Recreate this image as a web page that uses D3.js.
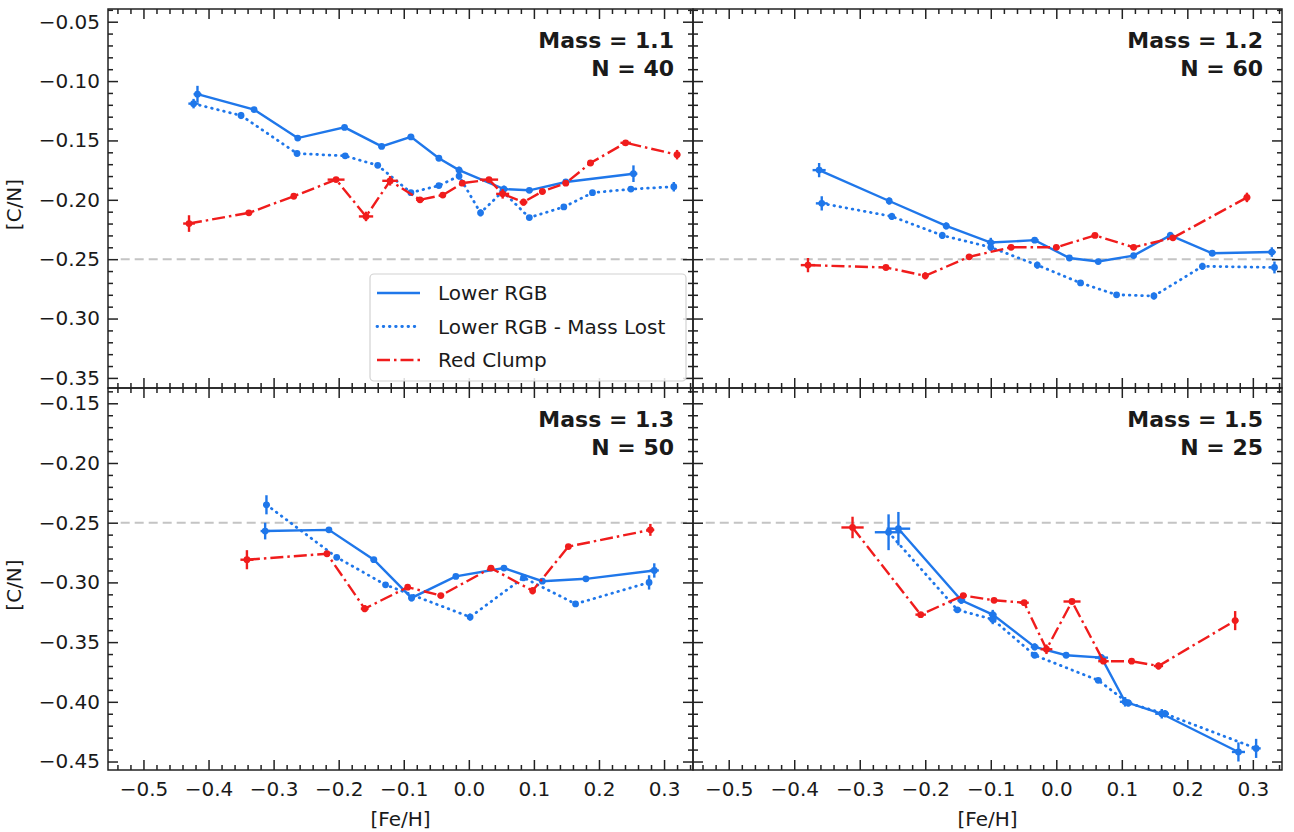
<!DOCTYPE html>
<html>
<head>
<meta charset="utf-8">
<script src="https://cdn.jsdelivr.net/npm/d3@7"></script>
<style>
  body { margin: 0; background: #fff; }
  svg { display: block; }
  text { font-family: "DejaVu Sans", sans-serif; fill: #1a1a1a; }
</style>
</head>
<body>
<svg id="chart" width="1294" height="832"></svg>
<script>
// ---- tick labels ----
const feTicks = [-0.5, -0.4, -0.3, -0.2, -0.1, 0.0, 0.1, 0.2, 0.3];
const cnTicksTop = [-0.05, -0.10, -0.15, -0.20, -0.25, -0.30, -0.35];
const cnTicksBottom = [-0.15, -0.20, -0.25, -0.30, -0.35, -0.40, -0.45];

// ---- panel annotations ----
const masses = ["1.1", "1.2", "1.3", "1.5"];
const counts = [40, 60, 50, 25];
const seriesNames = ["Lower RGB", "Lower RGB - Mass Lost", "Red Clump"];
const referenceCN = -0.25;
const referenceFe = [-0.535, 0.335];

// ---- data rows: [Fe/H], [C/N], [Fe/H] error, [C/N] error ----
// Mass = 1.1
const rgb11 = [
  [-0.417, -0.111, 0.006, 0.007], [-0.330, -0.124, 0.004, 0.002], [-0.263, -0.148, 0.004, 0.002],
  [-0.191, -0.139, 0.004, 0.002], [-0.134, -0.155, 0.005, 0.002], [-0.089, -0.147, 0.005, 0.002],
  [-0.046, -0.165, 0.004, 0.002], [-0.015, -0.175, 0.005, 0.003], [0.054, -0.191, 0.006, 0.003],
  [0.093, -0.192, 0.005, 0.002], [0.149, -0.185, 0.004, 0.002], [0.253, -0.178, 0.006, 0.007]
];
const lost11 = [
  [-0.423, -0.119, 0.008, 0.004], [-0.350, -0.129, 0.004, 0.003], [-0.264, -0.161, 0.004, 0.002],
  [-0.190, -0.163, 0.004, 0.002], [-0.140, -0.171, 0.004, 0.002], [-0.089, -0.194, 0.004, 0.002],
  [-0.046, -0.188, 0.004, 0.002], [-0.015, -0.180, 0.004, 0.003], [0.018, -0.211, 0.004, 0.003],
  [0.052, -0.193, 0.004, 0.002], [0.093, -0.215, 0.004, 0.002], [0.146, -0.206, 0.004, 0.002],
  [0.190, -0.194, 0.004, 0.002], [0.249, -0.191, 0.005, 0.002], [0.315, -0.189, 0.004, 0.004]
];
const clump11 = [
  [-0.430, -0.220, 0.009, 0.007], [-0.338, -0.211, 0.005, 0.002], [-0.269, -0.197, 0.004, 0.002],
  [-0.204, -0.183, 0.013, 0.002], [-0.158, -0.214, 0.011, 0.004], [-0.121, -0.184, 0.012, 0.004],
  [-0.075, -0.200, 0.006, 0.002], [-0.040, -0.196, 0.005, 0.002], [-0.010, -0.186, 0.004, 0.002],
  [0.031, -0.183, 0.014, 0.002], [0.052, -0.195, 0.010, 0.004], [0.084, -0.202, 0.006, 0.003],
  [0.113, -0.193, 0.005, 0.002], [0.149, -0.186, 0.005, 0.002], [0.187, -0.169, 0.005, 0.002],
  [0.241, -0.152, 0.008, 0.002], [0.320, -0.162, 0.005, 0.004]
];

// Mass = 1.2
const rgb12 = [
  [-0.362, -0.175, 0.010, 0.006], [-0.255, -0.201, 0.004, 0.003], [-0.168, -0.222, 0.005, 0.003],
  [-0.100, -0.236, 0.006, 0.004], [-0.033, -0.234, 0.006, 0.002], [0.020, -0.249, 0.004, 0.002],
  [0.064, -0.252, 0.004, 0.002], [0.118, -0.247, 0.004, 0.002], [0.174, -0.230, 0.005, 0.003],
  [0.238, -0.245, 0.005, 0.002], [0.329, -0.244, 0.006, 0.004]
];
const lost12 = [
  [-0.358, -0.203, 0.009, 0.006], [-0.251, -0.214, 0.004, 0.003], [-0.174, -0.230, 0.004, 0.003],
  [-0.100, -0.240, 0.004, 0.003], [-0.029, -0.255, 0.004, 0.003], [0.037, -0.270, 0.004, 0.002],
  [0.092, -0.280, 0.004, 0.002], [0.149, -0.281, 0.004, 0.003], [0.223, -0.256, 0.004, 0.003],
  [0.333, -0.257, 0.004, 0.005]
];
const clump12 = [
  [-0.379, -0.255, 0.011, 0.006], [-0.260, -0.257, 0.005, 0.002], [-0.200, -0.264, 0.005, 0.003],
  [-0.133, -0.248, 0.005, 0.002], [-0.069, -0.240, 0.005, 0.002], [0.000, -0.240, 0.005, 0.002],
  [0.059, -0.230, 0.005, 0.002], [0.118, -0.240, 0.005, 0.002], [0.178, -0.232, 0.005, 0.002],
  [0.291, -0.198, 0.005, 0.004]
];

// Mass = 1.3
const rgb13 = [
  [-0.313, -0.257, 0.007, 0.007], [-0.215, -0.256, 0.004, 0.002], [-0.146, -0.281, 0.005, 0.002],
  [-0.088, -0.313, 0.005, 0.003], [-0.020, -0.295, 0.004, 0.002], [0.054, -0.288, 0.004, 0.002],
  [0.113, -0.299, 0.004, 0.002], [0.180, -0.297, 0.004, 0.002], [0.285, -0.290, 0.007, 0.006]
];
const lost13 = [
  [-0.311, -0.235, 0.005, 0.008], [-0.203, -0.279, 0.004, 0.002], [-0.128, -0.302, 0.004, 0.002],
  [0.002, -0.329, 0.004, 0.003], [0.084, -0.296, 0.004, 0.003], [0.164, -0.318, 0.004, 0.002],
  [0.277, -0.300, 0.003, 0.006]
];
const clump13 = [
  [-0.341, -0.281, 0.010, 0.008], [-0.218, -0.276, 0.004, 0.002], [-0.160, -0.322, 0.006, 0.003],
  [-0.094, -0.304, 0.004, 0.002], [-0.043, -0.311, 0.005, 0.002], [0.034, -0.288, 0.005, 0.002],
  [0.098, -0.307, 0.004, 0.003], [0.153, -0.270, 0.004, 0.002], [0.279, -0.256, 0.006, 0.005]
];

// Mass = 1.5
const rgb15 = [
  [-0.241, -0.255, 0.018, 0.014], [-0.145, -0.315, 0.006, 0.003], [-0.097, -0.327, 0.006, 0.004],
  [-0.033, -0.354, 0.006, 0.003], [0.015, -0.361, 0.005, 0.002], [0.069, -0.363, 0.010, 0.003],
  [0.105, -0.400, 0.008, 0.004], [0.161, -0.410, 0.010, 0.004], [0.278, -0.442, 0.010, 0.008]
];
const lost15 = [
  [-0.256, -0.258, 0.021, 0.015], [-0.151, -0.323, 0.006, 0.002], [-0.097, -0.331, 0.006, 0.004],
  [-0.033, -0.361, 0.006, 0.002], [0.064, -0.382, 0.005, 0.002], [0.110, -0.401, 0.006, 0.003],
  [0.166, -0.410, 0.006, 0.003], [0.305, -0.439, 0.007, 0.008]
];
const clump15 = [
  [-0.311, -0.254, 0.017, 0.009], [-0.207, -0.327, 0.008, 0.002], [-0.142, -0.311, 0.005, 0.002],
  [-0.095, -0.315, 0.004, 0.002], [-0.049, -0.317, 0.007, 0.002], [-0.015, -0.356, 0.009, 0.004],
  [0.024, -0.316, 0.013, 0.002], [0.072, -0.366, 0.008, 0.002], [0.115, -0.366, 0.004, 0.002],
  [0.156, -0.370, 0.007, 0.003], [0.273, -0.332, 0.005, 0.008]
];

// ---- layout ----
const colX = [[108, 693], [693, 1282]];
const rowY = [[388, 9], [770, 388]];
const feDomain = [-0.5545, 0.3445];
const cnDomains = [[-0.3585, -0.0393], [-0.4571, -0.1372]];
const cnTickSets = [cnTicksTop, cnTicksBottom];

const blue = "#1f77ea";
const red = "#f01c1c";
const styles = [
  { color: blue, dash: null, cap: "butt" },
  { color: blue, dash: "0.6,5.6", cap: "round" },
  { color: red, dash: "13,4,2.5,4", cap: "butt" }
];

const panels = [
  { col: 0, row: 0, data: [rgb11, lost11, clump11] },
  { col: 1, row: 0, data: [rgb12, lost12, clump12] },
  { col: 0, row: 1, data: [rgb13, lost13, clump13] },
  { col: 1, row: 1, data: [rgb15, lost15, clump15] }
];

const svg = d3.select("#chart");
const fmtFe = d3.format(".1f");
const fmtCN = d3.format(".2f");
const axisColor = "#222";

panels.forEach((p, i) => {
  const x = d3.scaleLinear().domain(feDomain).range(colX[p.col]);
  const y = d3.scaleLinear().domain(cnDomains[p.row]).range(rowY[p.row]);
  const [xl, xr] = x.range();
  const [yb, yt] = y.range();
  const g = svg.append("g");

  // reference level
  g.append("line")
    .attr("x1", x(referenceFe[0])).attr("x2", x(referenceFe[1]))
    .attr("y1", y(referenceCN)).attr("y2", y(referenceCN))
    .attr("stroke", "#c4c4c4").attr("stroke-width", 2)
    .attr("stroke-dasharray", "9,5");

  // series: connecting line, error bars, markers
  p.data.forEach((rows, s) => {
    const st = styles[s];
    const line = d3.line().x(d => x(d[0])).y(d => y(d[1]));
    g.append("path")
      .attr("d", line(rows))
      .attr("fill", "none")
      .attr("stroke", st.color)
      .attr("stroke-width", s === 1 ? 2.8 : 2.4)
      .attr("stroke-linecap", st.cap)
      .attr("stroke-dasharray", st.dash);
    const eg = g.append("g").attr("stroke", st.color).attr("stroke-width", 2.4);
    eg.selectAll("line.xe").data(rows).join("line")
      .attr("class", "xe")
      .attr("x1", d => x(d[0] - d[2])).attr("x2", d => x(d[0] + d[2]))
      .attr("y1", d => y(d[1])).attr("y2", d => y(d[1]));
    eg.selectAll("line.ye").data(rows).join("line")
      .attr("class", "ye")
      .attr("x1", d => x(d[0])).attr("x2", d => x(d[0]))
      .attr("y1", d => y(d[1] - d[3])).attr("y2", d => y(d[1] + d[3]));
    g.append("g").selectAll("circle").data(rows).join("circle")
      .attr("cx", d => x(d[0])).attr("cy", d => y(d[1]))
      .attr("r", 3.4).attr("fill", st.color);
  });

  // frame
  g.append("rect")
    .attr("x", xl).attr("y", yt).attr("width", xr - xl).attr("height", yb - yt)
    .attr("fill", "none").attr("stroke", axisColor).attr("stroke-width", 1.5);

  // ticks, all pointing inward
  const xMinor = d3.range(-27, 18).map(k => k * 0.02)
    .filter(v => v >= feDomain[0] && v <= feDomain[1] && !feTicks.some(t => Math.abs(t - v) < 1e-6));
  const cnTicks = cnTickSets[p.row];
  const dom = cnDomains[p.row];
  const yMinor = d3.range(-46, -3).map(k => k / 100)
    .filter(v => v >= dom[0] && v <= dom[1] && !cnTicks.some(t => Math.abs(t - v) < 1e-6));

  const styleAxis = a => {
    a.select(".domain").remove();
    a.selectAll(".tick line").attr("stroke", axisColor).attr("stroke-width", 1.5);
    a.selectAll(".tick text").attr("font-family", "DejaVu Sans, sans-serif").attr("font-size", 20).attr("fill", "#1a1a1a");
  };
  const showX = p.row === 1, showY = p.col === 0;

  g.append("g").attr("transform", `translate(0,${yb})`)
    .call(d3.axisBottom(x).tickValues(feTicks).tickSize(-10).tickPadding(12)
      .tickFormat(showX ? fmtFe : () => "")).call(styleAxis);
  g.append("g").attr("transform", `translate(0,${yb})`)
    .call(d3.axisBottom(x).tickValues(xMinor).tickSize(-5).tickFormat(() => "")).call(styleAxis);
  g.append("g").attr("transform", `translate(0,${yt})`)
    .call(d3.axisTop(x).tickValues(feTicks).tickSize(-10).tickFormat(() => "")).call(styleAxis);
  g.append("g").attr("transform", `translate(0,${yt})`)
    .call(d3.axisTop(x).tickValues(xMinor).tickSize(-5).tickFormat(() => "")).call(styleAxis);

  g.append("g").attr("transform", `translate(${xl},0)`)
    .call(d3.axisLeft(y).tickValues(cnTicks).tickSize(-10).tickPadding(8)
      .tickFormat(showY ? fmtCN : () => "")).call(styleAxis);
  g.append("g").attr("transform", `translate(${xl},0)`)
    .call(d3.axisLeft(y).tickValues(yMinor).tickSize(-5).tickFormat(() => "")).call(styleAxis);
  g.append("g").attr("transform", `translate(${xr},0)`)
    .call(d3.axisRight(y).tickValues(cnTicks).tickSize(-10).tickFormat(() => "")).call(styleAxis);
  g.append("g").attr("transform", `translate(${xr},0)`)
    .call(d3.axisRight(y).tickValues(yMinor).tickSize(-5).tickFormat(() => "")).call(styleAxis);

  // mass annotation
  g.append("text").attr("x", xr - 19).attr("y", yt + 39)
    .attr("text-anchor", "end").attr("font-size", 22).attr("font-weight", "bold")
    .text(`Mass = ${masses[i]}`);
  g.append("text").attr("x", xr - 19).attr("y", yt + 67)
    .attr("text-anchor", "end").attr("font-size", 22).attr("font-weight", "bold")
    .text(`N = ${counts[i]}`);

  // axis titles
  if (showY) {
    g.append("text")
      .attr("transform", `translate(21,${(yt + yb) / 2 + 6}) rotate(-90)`)
      .attr("text-anchor", "middle").attr("font-size", 20).text("[C/N]");
  }
  if (showX) {
    g.append("text").attr("x", (xl + xr) / 2).attr("y", 826)
      .attr("text-anchor", "middle").attr("font-size", 20).text("[Fe/H]");
  }

  // legend in the first panel
  if (i === 0) {
    const lg = g.append("g");
    lg.append("rect").attr("x", 370).attr("y", 274).attr("width", 316).attr("height", 107)
      .attr("rx", 4).attr("fill", "#fff").attr("fill-opacity", 0.85)
      .attr("stroke", "#d2d2d2").attr("stroke-width", 1.2);
    seriesNames.forEach((name, s) => {
      const ly = 293 + s * 33.5;
      lg.append("line").attr("x1", 377).attr("x2", 420).attr("y1", ly).attr("y2", ly)
        .attr("stroke", styles[s].color).attr("stroke-width", s === 1 ? 2.8 : 2.4)
        .attr("stroke-linecap", styles[s].cap)
        .attr("stroke-dasharray", styles[s].dash);
      lg.append("text").attr("x", 438).attr("y", ly + 7).attr("font-size", 20).text(name);
    });
  }
});
</script>
</body>
</html>
